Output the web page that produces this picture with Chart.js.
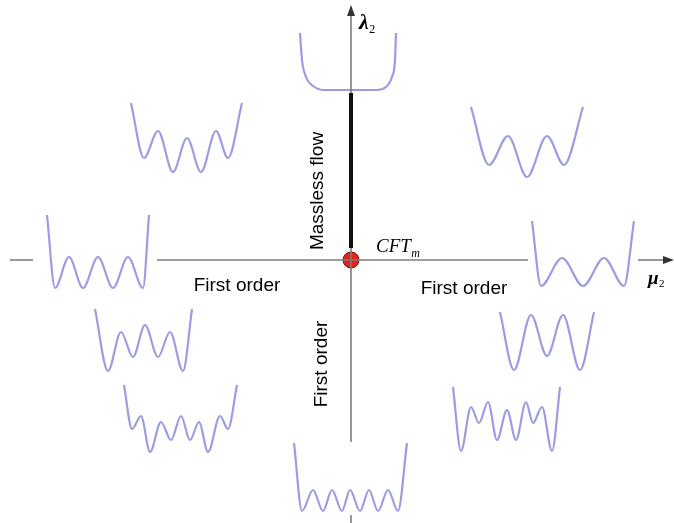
<!DOCTYPE html>
<html>
<head>
<meta charset="utf-8">
<title>Phase diagram in the (μ₂, λ₂) plane</title>
<script src="https://cdn.jsdelivr.net/npm/chart.js@4/dist/chart.umd.min.js"></script>
<style>
  html, body { margin: 0; padding: 0; background: #ffffff; }
  #wrap { width: 674px; height: 523px; }
</style>
</head>
<body>
<div id="wrap"><canvas id="phase"></canvas></div>
<script>
// Coordinates are (μ2, λ2) with the CFT_m point at the origin.

// Potential shapes, listed as [μ2, λ2] pairs (walls and extrema)
const wellTop = [[-51,227],[-49,200],[-45,183],[-38,174],[-27,170],[25,170],[36,174],[41,183],[44,200],[45,227]];
const wellUpperLeft = [[-220,157],[-207,102],[-193,129],[-178,88],[-164,122],[-150,88],[-135,129],[-123,102],[-109,157]];
const wellUpperRight = [[120,153],[138,95],[157,124],[176,83],[196,124],[213,95],[232,153]];
const wellAxisLeft = [[-304,45],[-296,-28],[-282,3],[-268,-28],[-253,3],[-238,-28],[-223,3],[-208,-28],[-202,45]];
const wellAxisRight = [[181,39],[190,-26],[211,2],[232,-26],[253,2],[273,-26],[283,39]];
const wellMidLeft = [[-256,-49],[-243,-111],[-230,-72],[-218,-97],[-206,-65],[-193,-97],[-181,-72],[-168,-111],[-159,-49]];
const wellLowLeft = [[-227,-125],[-219,-169],[-210,-156],[-201,-192],[-190,-162],[-180,-180],[-170,-156],[-161,-180],[-152,-162],[-143,-192],[-131,-156],[-123,-169],[-114,-125]];
const wellLowRight = [[102,-127],[110,-191],[120,-147],[128,-163],[137,-142],[146,-180],[156,-150],[165,-180],[175,-142],[182,-163],[191,-147],[201,-191],[209,-127]];
const wellBottom = [[-57,-183],[-49,-251],[-38,-230],[-28,-251],[-19,-230],[-9,-251],[-1,-230],[9,-251],[18,-230],[27,-251],[37,-230],[47,-251],[56,-183]];
const wellMidRight = [[149,-52],[163,-110],[180,-55],[196,-96],[212,-55],[229,-110],[243,-52]];

// Axis pieces (gaps are left where potentials sit on the axes)
const muAxisPieces = [[-341,-318],[-194,177],[287,318]];
const lambdaAxisPieces = [[-182,249],[-255,-263]];
const masslessFlow = [167, 12];
const muArrowTip = 323;
const lambdaArrowTip = 255;

// Visible window of the plane
const muRange = [-351, 323];
const lambdaRange = [-263, 260];

const wells = [wellTop, wellUpperLeft, wellUpperRight, wellAxisLeft, wellAxisRight,
               wellMidLeft, wellLowLeft, wellLowRight, wellBottom, wellMidRight];

const wellColor = 'rgba(145,145,224,0.9)';
const axisColor = '#7d7d7d';

const datasets = [];
wells.forEach(w => datasets.push({
  data: w.map(p => ({x: p[0], y: p[1]})),
  showLine: true, pointRadius: 0, borderColor: wellColor, borderWidth: 2.2,
  cubicInterpolationMode: 'monotone', order: 2
}));
muAxisPieces.forEach(s => datasets.push({
  data: [{x: s[0], y: 0}, {x: s[1], y: 0}],
  showLine: true, pointRadius: 0, borderColor: axisColor, borderWidth: 1.6, order: 1
}));
lambdaAxisPieces.forEach(s => datasets.push({
  data: [{x: 0, y: s[0]}, {x: 0, y: s[1]}],
  showLine: true, pointRadius: 0, borderColor: axisColor, borderWidth: 1.6, order: 1
}));
datasets.push({
  data: [{x: 0, y: masslessFlow[0]}, {x: 0, y: masslessFlow[1]}],
  showLine: true, pointRadius: 0, borderColor: '#111111', borderWidth: 4, order: 0
});
// CFT_m fixed point
datasets.push({
  data: [{x: 0, y: 0}],
  pointRadius: 8, pointBackgroundColor: '#e3241c', pointBorderColor: '#7a1410',
  pointBorderWidth: 1, order: 5
});

const labelPlugin = {
  id: 'diagramLabels',
  afterDatasetsDraw(chart) {
    const ctx = chart.ctx;
    const X = v => chart.scales.x.getPixelForValue(v);
    const Y = v => chart.scales.y.getPixelForValue(v);
    ctx.save();

    // arrowheads
    ctx.fillStyle = '#333333';
    ctx.beginPath();
    ctx.moveTo(X(0), Y(lambdaArrowTip));
    ctx.lineTo(X(0) - 4, Y(lambdaArrowTip) + 11);
    ctx.lineTo(X(0) + 4, Y(lambdaArrowTip) + 11);
    ctx.closePath(); ctx.fill();
    ctx.beginPath();
    ctx.moveTo(X(muArrowTip), Y(0));
    ctx.lineTo(X(muArrowTip) - 11, Y(0) - 4);
    ctx.lineTo(X(muArrowTip) - 11, Y(0) + 4);
    ctx.closePath(); ctx.fill();

    ctx.fillStyle = '#000000';
    ctx.textBaseline = 'alphabetic';
    ctx.textAlign = 'left';
    const serif = '"Liberation Serif", "Times New Roman", serif';

    // axis symbols with subscripts
    const withSub = (main, mainFont, sub, subFont, x, y, dy) => {
      ctx.font = mainFont;
      ctx.fillText(main, x, y);
      const w = ctx.measureText(main).width;
      ctx.font = subFont;
      ctx.fillText(sub, x + w + 0.5, y + dy);
    };
    withSub('λ', 'bold italic 22px ' + serif, '2', '12px ' + serif, X(8), Y(231), 4);
    withSub('μ', 'bold italic 19px ' + serif, '2', '11px ' + serif, X(297), Y(-24), 3);
    withSub('CFT', 'italic 19px ' + serif, 'm', 'italic 12px ' + serif, X(25), Y(8), 5);

    // region labels
    ctx.font = '19px "Liberation Sans", Arial, sans-serif';
    ctx.textAlign = 'center';
    ctx.textBaseline = 'middle';
    ctx.fillText('First order', X(-114), Y(-26));
    ctx.fillText('First order', X(113), Y(-29));

    ctx.save();
    ctx.translate(X(-33), Y(69));
    ctx.rotate(-Math.PI / 2);
    ctx.fillText('Massless flow', 0, 0);
    ctx.restore();

    ctx.save();
    ctx.translate(X(-29), Y(-104));
    ctx.rotate(-Math.PI / 2);
    ctx.fillText('First order', 0, 0);
    ctx.restore();

    ctx.restore();
  }
};

new Chart(document.getElementById('phase'), {
  type: 'scatter',
  data: { datasets },
  options: {
    responsive: true,
    maintainAspectRatio: false,
    animation: false,
    layout: { padding: 0, autoPadding: false },
    plugins: { legend: { display: false }, tooltip: { enabled: false } },
    scales: {
      x: { type: 'linear', display: false, min: muRange[0], max: muRange[1] },
      y: { type: 'linear', display: false, min: lambdaRange[0], max: lambdaRange[1] }
    }
  },
  plugins: [labelPlugin]
});
</script>
</body>
</html>
